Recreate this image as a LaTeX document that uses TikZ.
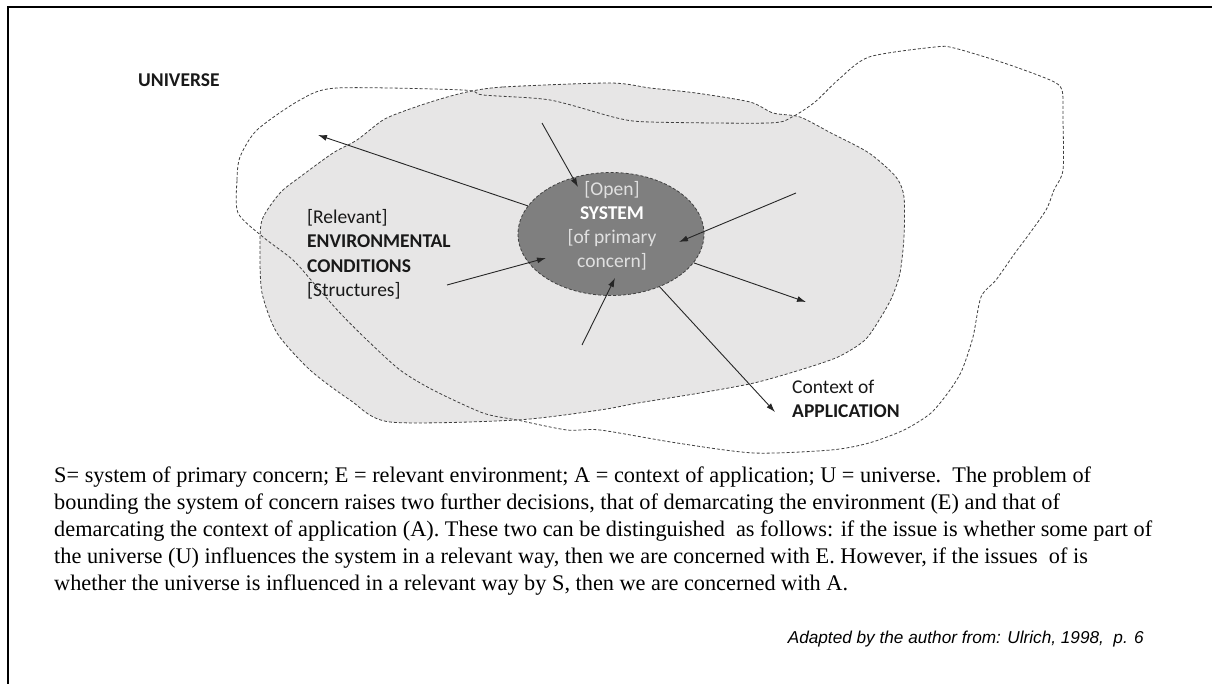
\documentclass[tikz,border=0pt]{standalone}
\usepackage{fontspec}
\setmainfont{Liberation Serif}
\newfontfamily\calib{Carlito}
\newfontfamily\arialit{Liberation Sans}
\usepackage{tikz}
\usetikzlibrary{shapes,arrows.meta,positioning}
\definecolor{envgray}{RGB}{231,230,230}
\definecolor{sysgray}{RGB}{127,127,127}
\begin{document}
\begin{tikzpicture}[x=1pt,y=-1pt,
  blobline/.style={draw=black!75,line width=0.8pt,dash pattern=on 3pt off 2pt},
  sysstyle/.style={ellipse,draw=black!75,fill=sysgray,line width=0.8pt,dash pattern=on 3pt off 2pt,minimum width=186pt,minimum height=123pt,inner sep=0pt},
  labelstyle/.style={font=\calib\fontsize{19.5}{24}\selectfont,inner sep=0pt,align=left,text=black!90},
  flow/.style={-{Latex[length=9pt,width=6pt]},line width=0.9pt,black!85}]
\useasboundingbox (0,0) rectangle (1212,684);
\draw [line width=1.6pt] (8,684)--(8,7)--(1212,7) ;
% relevant environment
\fill [envgray] plot [smooth cycle,tension=0.45] coordinates {(467,92) (503,87) (610,83) (650,88) (696,93) (750,102) (773,113) (800,117) (831,133) (869,153) (896,177) (904,197) (904,237) (900,273) (892,297) (881,317) (865,340) (838,357) (800,370) (754,383) (700,393) (638,403) (600,410) (517,420) (390,422) (350,400) (310,370) (277,333) (262,293) (260,253) (262,220) (280,193) (300,177) (333,153) (357,140) (383,120) (407,110) (437,100)};
% universe
\draw [blobline] plot [smooth cycle,tension=0.45] coordinates {(238,213) (237,180) (240,157) (257,130) (300,100) (337,88) (463,90) (483,95) (550,100) (617,118) (650,122) (769,123) (792,117) (815,102) (838,80) (869,57) (935,47) (954,48) (1004,63) (1050,80) (1062,90) (1063,120) (1063,170) (1054,190) (1046,210) (1027,237) (1015,253) (996,280) (981,297) (973,337) (962,370) (950,390) (931,413) (904,430) (869,443) (831,450) (754,453) (677,443) (600,430) (567,430) (517,420) (483,413) (433,390) (400,370) (367,340) (340,313) (317,287) (293,260) (263,237)};
\draw [blobline] plot [smooth cycle,tension=0.45] coordinates {(467,92) (503,87) (610,83) (650,88) (696,93) (750,102) (773,113) (800,117) (831,133) (869,153) (896,177) (904,197) (904,237) (900,273) (892,297) (881,317) (865,340) (838,357) (800,370) (754,383) (700,393) (638,403) (600,410) (517,420) (390,422) (350,400) (310,370) (277,333) (262,293) (260,253) (262,220) (280,193) (300,177) (333,153) (357,140) (383,120) (407,110) (437,100)};
% system
       \node [sysstyle] (sys) at (611,234) {};
       \node [labelstyle,align=center,anchor=north,text=black!12] (systext) at (612,181) {[Open]\\{\color{white}\bfseries SYSTEM}\\{}[of primary\\concern]};
% arrows
\coordinate (topsrc) at (542,123); \coordinate (tophead) at (578,187);
\coordinate (rsrc) at (796,193); \coordinate (rhead) at (679,242);
\coordinate (lsrc) at (447,285); \coordinate (lhead) at (546,258);
\coordinate (bsrc) at (582,345); \coordinate (bhead) at (615,278);
\coordinate (ulout) at (318,135);
\coordinate (rout) at (806,302);
\coordinate (appout) at (775,412);
\draw [flow] (topsrc)--(tophead) ;
\draw [flow] (rsrc)--(rhead) ;
\draw [flow] (lsrc)--(lhead) ;
\draw [flow] (bsrc)--(bhead) ;
\draw [flow] (sys)--(ulout) ;
\draw [flow] (sys)--(rout) ;
\draw [flow] (sys)--(appout) ;
% labels
       \node [labelstyle,anchor=base west] (univ) at (138,87) {\bfseries UNIVERSE};
       \node [labelstyle,anchor=north west,font=\calib\fontsize{19.5}{24.5}\selectfont] (env) at (307,209) {[Relevant]\\\bfseries ENVIRONMENTAL\\\bfseries CONDITIONS\\{}[Structures]};
       \node [labelstyle,anchor=north west] (app) at (792,380) {Context of\\\bfseries APPLICATION};
       \node [inner sep=0pt,anchor=north west,align=left,font=\fontsize{22.3}{27}\selectfont] (caption) at (54,467) {S= system of primary concern; E = relevant environment; A = context of application; U = universe.\ \ The problem of\\bounding the system of concern raises two further decisions, that of demarcating the environment (E) and that of\\demarcating the context of application (A). These two can be distinguished\ \ as follows: if the issue is whether some part of\\the universe (U) influences the system in a relevant way, then we are concerned with E. However, if the issues\ \ of is\\whether the universe is influenced in a relevant way by S, then we are concerned with A.};
       \node [inner sep=0pt,anchor=base east,font=\arialit\itshape\fontsize{17.2}{20}\selectfont] (credit) at (1144,643) {Adapted by the author from: Ulrich, 1998,\ \ p. 6};
\end{tikzpicture}
\end{document}
